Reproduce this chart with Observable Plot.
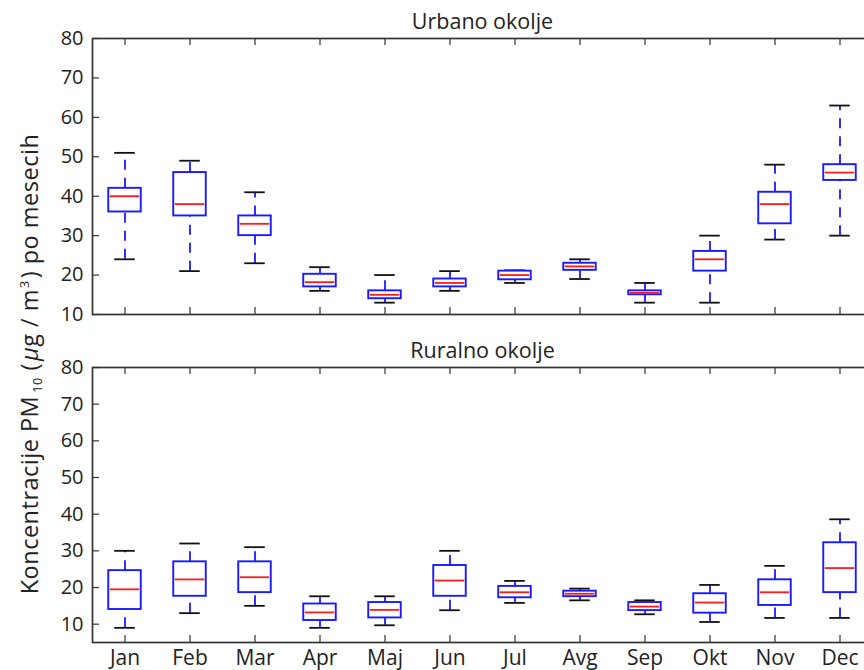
<!DOCTYPE html>
<html>
<head>
<meta charset="utf-8">
<script src="https://cdn.jsdelivr.net/npm/d3@7"></script>
<script src="https://cdn.jsdelivr.net/npm/@observablehq/plot@0.6"></script>
<style>
  html, body { margin: 0; padding: 0; background: #fff; overflow: hidden; }
  #wrap { position: relative; width: 864px; height: 670px; overflow: hidden; font-family: "Open Sans", sans-serif; color: #222; }
  #top, #bottom { position: absolute; left: 0; width: 880px; }
  #top { top: 0; }
  #bottom { top: 330px; }
  #top svg, #bottom svg { max-width: none !important; }
  #ylabel { position: absolute; left: 31px; top: 364px; transform: translate(-50%, -50%) rotate(-90deg); white-space: nowrap; font-size: 23.5px; letter-spacing: 0.5px; color: #222; line-height: 1; }
  #ylabel sub { font-size: 12.5px; vertical-align: -4px; margin-left: 3px; margin-right: 7px; }
  #ylabel sup { font-size: 12.5px; vertical-align: 9px; margin-left: 1px; margin-right: 2px; }
  #ylabel i { margin-left: 2px; }
</style>
</head>
<body>
<div id="wrap">
  <div id="top"></div>
  <div id="bottom"></div>
  <div id="ylabel">Koncentracije PM<sub>10</sub>(<i>μ</i>g / m<sup>3</sup>) po mesecih</div>
</div>
<script>
const months = ["Jan","Feb","Mar","Apr","Maj","Jun","Jul","Avg","Sep","Okt","Nov","Dec"];
const yTicks = [10, 20, 30, 40, 50, 60, 70, 80];

// Urbano okolje
const urbLow  = [24, 21, 23, 16, 13, 16, 18, 19, 13, 13, 29, 30];
const urbQ1   = [36, 35, 30, 17, 14, 17, 18.8, 21.2, 15, 21, 33, 44];
const urbMed  = [40, 38, 33, 18.2, 15, 18, 20, 22.2, 15.5, 24, 38, 46];
const urbQ3   = [42, 46, 35, 20.2, 16, 19, 21, 23, 16, 26, 41, 48];
const urbHigh = [51, 49, 41, 22, 20, 21, 21.2, 24, 18, 30, 48, 63];

// Ruralno okolje
const rurLow  = [9, 13, 15, 9, 9.7, 13.8, 15.8, 16.5, 12.7, 10.6, 11.7, 11.7];
const rurQ1   = [14, 17.6, 18.6, 11, 11.7, 17.6, 17.2, 17.5, 13.7, 13, 15.1, 18.6];
const rurMed  = [19.5, 22.2, 22.8, 13.2, 13.9, 21.9, 18.7, 18.3, 14.8, 15.9, 18.7, 25.3];
const rurQ3   = [24.6, 27, 27, 15.5, 15.9, 26, 20.3, 19, 15.9, 18.3, 22.1, 32.2];
const rurHigh = [30, 32, 31, 17.6, 17.6, 30, 21.8, 19.7, 16.5, 20.7, 25.9, 38.6];

const toRows = (lo, q1, med, q3, hi) => months.map((m, i) => ({month: m, lo: lo[i], q1: q1[i], med: med[i], q3: q3[i], hi: hi[i]}));
const urban = toRows(urbLow, urbQ1, urbMed, urbQ3, urbHigh);
const rural = toRows(rurLow, rurQ1, rurMed, rurQ3, rurHigh);

const W = 880, mL = 92, mR = 8;
const frameW = W - mL - mR;
const tickLen = 7;
const spine = "#333";

function panel({data, title, yDomain, height, marginTop, marginBottom, showX}) {
  const frameH = height - marginTop - marginBottom;
  return Plot.plot({
    width: W,
    height,
    marginLeft: mL,
    marginRight: mR,
    marginTop,
    marginBottom,
    style: {fontFamily: "Open Sans, sans-serif", fontSize: "20px", color: "#222", background: "white", overflow: "visible", maxWidth: "none"},
    x: {type: "band", domain: months, paddingInner: 0.5, paddingOuter: 0.25, align: 0.5, round: false, axis: null},
    y: {domain: yDomain, axis: null},
    marks: [
      // whiskers
      Plot.ruleX(data, {x: "month", y1: "q3", y2: "hi", stroke: "#1a1aff", strokeWidth: 1.8, strokeDasharray: "10,8"}),
      Plot.ruleX(data, {x: "month", y1: "lo", y2: "q1", stroke: "#1a1aff", strokeWidth: 1.8, strokeDasharray: "10,8"}),
      // caps
      Plot.tickY(data, {x: "month", y: "hi", stroke: "#111", strokeWidth: 1.8, insetLeft: 6, insetRight: 6}),
      Plot.tickY(data, {x: "month", y: "lo", stroke: "#111", strokeWidth: 1.8, insetLeft: 6, insetRight: 6}),
      // boxes
      Plot.barY(data, {x: "month", y1: "q1", y2: "q3", fill: "white", stroke: "#1a1aff", strokeWidth: 1.9}),
      // medians
      Plot.tickY(data, {x: "month", y: "med", stroke: "#ff1a1a", strokeWidth: 1.8, insetLeft: 1.5, insetRight: 1.5}),
      // inward ticks
      Plot.tickX(months, {x: d => d, insetTop: frameH - tickLen, stroke: spine, strokeWidth: 1.2}),
      Plot.tickX(months, {x: d => d, insetBottom: frameH - tickLen, stroke: spine, strokeWidth: 1.2}),
      Plot.tickY(yTicks, {y: d => d, insetRight: frameW - tickLen, stroke: spine, strokeWidth: 1.2}),
      Plot.tickY(yTicks, {y: d => d, insetLeft: frameW - tickLen, stroke: spine, strokeWidth: 1.2}),
      Plot.frame({stroke: spine, strokeWidth: 1.7}),
      Plot.axisY({ticks: yTicks, tickSize: 0, tickPadding: 9, fontSize: 20, label: null, tickFormat: d => d}),
      showX ? Plot.axisX({tickSize: 0, tickPadding: 8, fontSize: 21, label: null}) : null,
      Plot.text([title], {frameAnchor: "top", dy: -16, lineAnchor: "middle", fontSize: 21.5, fill: "#222"})
    ]
  });
}

document.getElementById("top").append(panel({data: urban, title: "Urbano okolje", yDomain: [10, 80], height: 330, marginTop: 38, marginBottom: 16, showX: false}));
document.getElementById("bottom").append(panel({data: rural, title: "Ruralno okolje", yDomain: [5, 80], height: 340, marginTop: 37, marginBottom: 28, showX: true}));
</script>
</body>
</html>
